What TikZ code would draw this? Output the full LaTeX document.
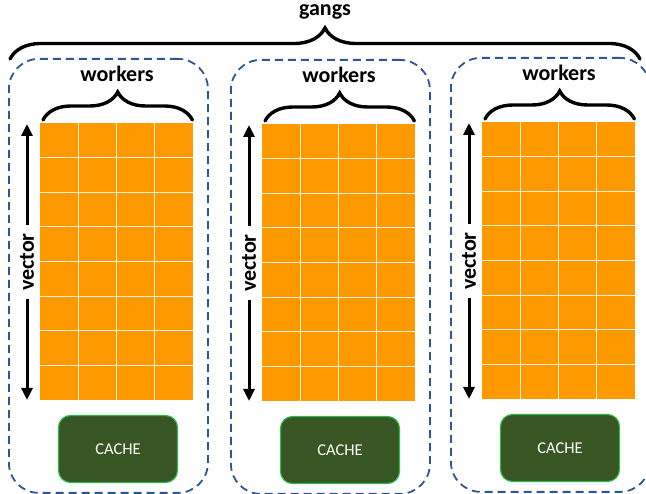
\documentclass[tikz,border=0pt]{standalone}
\usepackage{fontspec}
\setmainfont{Carlito}
\usepackage{xcolor}
\usepackage{tikz}
\usetikzlibrary{positioning,arrows.meta,decorations.pathreplacing,calc}

\definecolor{cellorange}{HTML}{FF9900}
\definecolor{cachegreen}{HTML}{375623}
\definecolor{cacheedge}{HTML}{2DB84F}
\definecolor{gangblue}{HTML}{2F5597}

\begin{document}
\begin{tikzpicture}[
  x=1pt, y=-1pt,
  gangbox/.style ={draw=gangblue, line width=1.8pt, dash pattern=on 8pt off 5pt,
                   rounded corners=30pt, minimum width=199pt, minimum height=434pt,
                   anchor=north west, inner sep=0pt},
  grid/.style    ={fill=cellorange, draw=none, minimum width=153pt, minimum height=277pt,
                   anchor=north west, inner sep=0pt},
  cellline/.style={draw=white!85!cellorange, line width=0.9pt},
  cache/.style   ={fill=cachegreen, draw=cacheedge, line width=1.2pt, rounded corners=12pt,
                   minimum width=119pt, minimum height=67pt, text=white, font=\fontsize{16.5}{18}\selectfont},
  brace/.style   ={decorate, line width=3.4pt, line cap=round},
  lbl/.style     ={font=\bfseries\fontsize{22}{24}\selectfont, inner sep=1pt},
  vec/.style     ={{Triangle[length=12pt,width=11pt]}-{Triangle[length=12pt,width=11pt]}, line width=3pt},
]
\useasboundingbox (0,0) rectangle (646,494);

% ---------------- gangs (box, grid, workers brace, vector arrow, cache) ----------------
\foreach \gx/\gy/\i in {40/123/1, 262/124/2, 482/122/3}{
  \node[gangbox] (gang\i) at (\gx-32,\gy-65) {};
  \node[grid] (grid\i) at (\gx,\gy) {};
  \foreach \c in {1,2,3}
    \draw[cellline] ({\gx+\c*38.25},\gy) -- ({\gx+\c*38.25},\gy+277);
  \foreach \r in {1,...,7}
    \draw[cellline] (\gx,{\gy+\r*34.625}) -- (\gx+153,{\gy+\r*34.625});
  % workers
  \draw[brace, decoration={brace, amplitude=28pt}]
    ($(grid\i.north west)+(3,-3)$) -- ($(grid\i.north east)+(-1,-3)$);
  \node[lbl] (work\i) at (\gx+77,\gy-49) {workers};
  % vector
  \coordinate (vbot\i) at (\gx-13,\gy+277);
  \coordinate (vtop\i) at (\gx-13,\gy+1);
  \draw[vec] (vbot\i) -- (vtop\i)
    node[lbl, midway, rotate=90, fill=white, inner xsep=8pt] (vlab\i) {vector};
  % cache
  \node[cache] (cache\i) at (\gx+78,\gy+326) {CACHE};
}

% ---------------- gangs brace ----------------
\coordinate (gl) at (10,59);
\coordinate (gr) at (640,59);
\draw[brace, decoration={brace, amplitude=31pt}] (gl) -- (gr);
\node[lbl] (gangs) at (325,12) {gangs};
\end{tikzpicture}
\end{document}
